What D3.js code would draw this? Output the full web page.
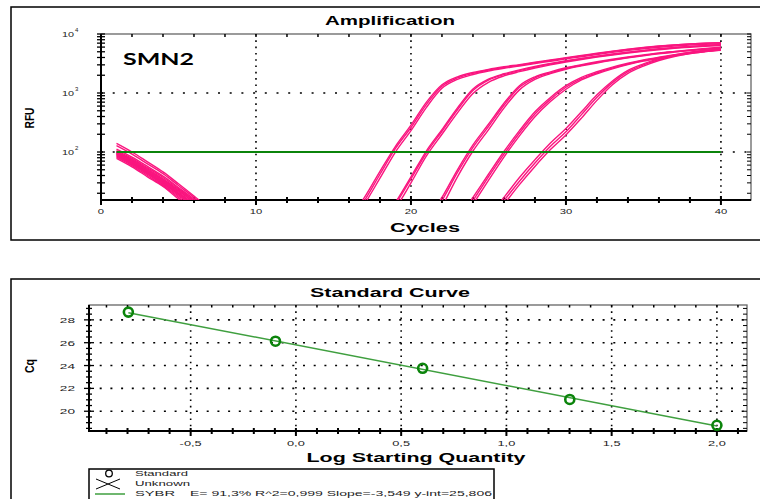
<!DOCTYPE html>
<html>
<head>
<meta charset="utf-8">
<script src="https://cdn.jsdelivr.net/npm/d3@7"></script>
<style>
  body { margin: 0; background: #fff; }
  svg { display: block; font-family: "Liberation Sans", Arial, sans-serif; }
</style>
</head>
<body>
<svg id="chart" width="760" height="499"></svg>
<script>
// ---- amplification data (RFU per cycle, one array per well) ----
const cycles = [1,2,3,4,5,6,7,8,9,10,11,12,13,14,15,16,17,18,19,20,
                21,22,23,24,25,26,27,28,29,30,31,32,33,34,35,36,37,38,39,40];

// dilution 1 (Cq ~18.8)
const rfuG1 = [
  [140,100,68,46,29,18,11, 7,5,4,4,4,4,4,5, 6,15,42,115,260,640,1300,1800,2150,2450,2700,2950,3250,3550,3900,4250,4650,5050,5450,5850,6200,6500,6750,6950,7100],
  [128,92,63,43,27,17,10, 6,5,4,4,4,4,5,5, 7,17,47,125,285,700,1380,1880,2230,2520,2780,3030,3320,3620,3970,4320,4720,5120,5520,5900,6250,6550,6800,7000,7150],
  [112,82,57,39,25,16,10, 6,5,4,4,4,4,4,4, 5,13,36,100,230,570,1200,1700,2060,2360,2620,2870,3150,3450,3780,4120,4500,4880,5250,5620,5950,6250,6500,6700,6850]
];
// dilution 2 (Cq ~21.1)
const rfuG2 = [
  [106,78,54,37,24,15,9, 5,4,4,4,4,4,4,4,4,5, 6,13,35,97,225,520,1100,1650,2050,2400,2750,3100,3450,3800,4150,4500,4850,5200,5550,5850,6100,6350,6550],
  [102,75,52,35,23,15,9, 5,4,4,4,4,4,4,4,4,4, 5,11,30,86,200,460,980,1520,1950,2300,2650,3000,3350,3700,4050,4400,4750,5080,5400,5700,5950,6200,6400],
  [100,73,50,34,22,14,9, 5,4,4,4,4,4,4,4,4,5, 6,14,38,105,240,560,1170,1720,2120,2470,2820,3170,3520,3870,4220,4570,4920,5270,5620,5920,6180,6420,6650]
];
// dilution 3 (Cq ~23.8)
const rfuG3 = [
  [98,71,49,33,22,14,8, 5,4,4,4,4,4,4,4,4,4,4,4,5, 6,15,45,120,270,620,1250,1800,2200,2600,2950,3300,3650,4000,4350,4700,5000,5300,5600,5900],
  [96,69,47,32,21,13,8, 5,4,4,4,4,4,4,4,4,4,4,4,5, 7,17,50,132,295,670,1330,1880,2280,2680,3030,3380,3730,4080,4430,4780,5080,5380,5680,5980],
  [94,67,46,31,20,13,8, 5,4,4,4,4,4,4,4,4,4,4,4,4, 5,12,38,104,238,555,1130,1700,2130,2530,2880,3230,3580,3930,4280,4620,4920,5220,5520,5800]
];
// dilution 4 (Cq ~26.1)
const rfuG4 = [
  [92,66,45,31,20,13,8, 5,4,4,4,4,4,4,4,4,4,4,4,4,4,5, 6,15,38,92,210,440,780,1250,1750,2200,2650,3100,3550,3950,4350,4750,5100,5450],
  [90,64,44,30,19,12,7, 5,4,4,4,4,4,4,4,4,4,4,4,4,4,5, 7,17,42,102,230,480,840,1330,1840,2290,2740,3190,3640,4040,4440,4840,5190,5540],
  [88,63,43,29,19,12,7, 5,4,4,4,4,4,4,4,4,4,4,4,4,4,4, 5,13,33,82,188,395,715,1160,1670,2120,2570,3020,3470,3870,4270,4670,5020,5370]
];
// dilution 5 (Cq ~28.7)
const rfuG5 = [
  [85,61,42,28,18,12,7, 5,4,4,4,4,4,4,4,4,4,4,4,4,4,4,4,5, 7,15,32,65,125,220,430,850,1500,2300,3000,3700,4300,4800,5200,5500],
  [82,59,40,27,17,11,7, 5,4,4,4,4,4,4,4,4,4,4,4,4,4,4,4,5, 8,17,37,74,142,250,480,930,1600,2420,3120,3820,4420,4920,5300,5600],
  [78,56,38,26,16,10,6, 5,4,4,4,4,4,4,4,4,4,4,4,4,4,4,4,4, 6,13,28,57,110,195,375,750,1380,2150,2850,3550,4150,4650,5050,5300]
];

const threshold = 100;
const thresholdCycles = [1, 40];
const ampXTicks = [0, 10, 20, 30, 40];
const ampYExp = [2, 3, 4];

// ---- standard curve data ----
const logQty = [-0.796, -0.097, 0.602, 1.301, 2.0];
const cqStd = [28.68, 26.13, 23.76, 21.03, 18.77];
const fitSlope = -3.549;
const fitIntercept = 25.806;
const stdXTicks = [-0.5, 0, 0.5, 1, 1.5, 2];
const stdXLabels = ["-0,5", "0,0", "0,5", "1,0", "1,5", "2,0"];
const stdYTicks = [20, 22, 24, 26, 28];
const legendItems = ["Standard", "Unknown", "SYBR"];
const legendStats = "E= 91,3% R^2=0,999 Slope=-3,549 y-int=25,806";

const svg = d3.select('#chart');
const pink = '#fa157f';
const green = '#0b840b';

// stretch text horizontally, the source picture is wider than it is tall
function stretch(sel, k) {
  sel.each(function () {
    const w = this.getComputedTextLength();
    d3.select(this).attr('textLength', w * k).attr('lengthAdjust', 'spacingAndGlyphs');
  });
  return sel;
}
function fixed(sel, len) {
  return sel.attr('textLength', len).attr('lengthAdjust', 'spacingAndGlyphs');
}

// panel frames
svg.append('rect').attr('x', 11).attr('y', 7).attr('width', 770).attr('height', 233)
  .attr('fill', 'none').attr('stroke', '#000').attr('stroke-width', 1.5);
svg.append('rect').attr('x', 11).attr('y', 279).attr('width', 770).attr('height', 250)
  .attr('fill', 'none').attr('stroke', '#000').attr('stroke-width', 1.5);

// ================= Amplification =================
const A = { l: 101, r: 751, t: 34, b: 200 };
const ax = d3.scaleLinear().domain([0, 41.94]).range([A.l, A.r]);
const ay = d3.scaleLog().domain([15.37, 10000]).range([A.b, A.t]);

// dotted grid
svg.append('g').selectAll('line').data(ampXTicks.filter(d => d > 0)).join('line')
  .attr('x1', d => ax(d)).attr('x2', d => ax(d)).attr('y1', A.t).attr('y2', A.b)
  .attr('stroke', '#000').attr('stroke-width', 1.6).attr('stroke-dasharray', '1.6,4.7');
svg.append('g').selectAll('line').data(ampYExp.filter(e => e < 4)).join('line')
  .attr('x1', A.l).attr('x2', A.r).attr('y1', e => ay(Math.pow(10, e))).attr('y2', e => ay(Math.pow(10, e)))
  .attr('stroke', '#000').attr('stroke-width', 1.6).attr('stroke-dasharray', '2,9.7');

// frame
svg.append('rect').attr('x', A.l).attr('y', A.t).attr('width', A.r - A.l).attr('height', A.b - A.t)
  .attr('fill', 'none').attr('stroke', '#666').attr('stroke-width', 1.3);

// log minor ticks
const logTicks = ay.ticks(30).filter(v => v >= 15.37 && v <= 10000);
const gT = svg.append('g').attr('stroke', '#000');
gT.selectAll('.lt').data(logTicks).join('line')
  .attr('x1', A.l - 4).attr('x2', A.l + 4).attr('y1', d => ay(d)).attr('y2', d => ay(d)).attr('stroke-width', 1.3);
gT.selectAll('.rt').data(logTicks).join('line').attr('class', 'rt')
  .attr('x1', A.r - 4).attr('x2', A.r).attr('y1', d => ay(d)).attr('y2', d => ay(d)).attr('stroke-width', 1);
const cycTicks = d3.range(0, 42, 2);
gT.selectAll('.bt').data(cycTicks).join('line').attr('class', 'bt')
  .attr('x1', d => ax(d)).attr('x2', d => ax(d))
  .attr('y1', d => A.b - (d % 10 ? 3 : 4)).attr('y2', d => A.b + (d % 10 ? 3 : 5)).attr('stroke-width', 2);
gT.selectAll('.tt').data(cycTicks).join('line').attr('class', 'tt')
  .attr('x1', d => ax(d)).attr('x2', d => ax(d)).attr('y1', A.t).attr('y2', A.t + 3).attr('stroke-width', 1.5);

// axes lines
svg.append('line').attr('x1', A.l).attr('x2', A.l).attr('y1', A.t).attr('y2', A.b + 1).attr('stroke', '#000').attr('stroke-width', 2);
svg.append('line').attr('x1', A.l).attr('x2', A.r).attr('y1', A.b).attr('y2', A.b).attr('stroke', '#000').attr('stroke-width', 2);

// tick labels
stretch(svg.append('g').selectAll('text').data(ampXTicks).join('text')
  .attr('x', d => ax(d)).attr('y', 214).attr('text-anchor', 'middle')
  .attr('font-size', 8).attr('fill', '#222').text(d => d), 1.4);
const yl = svg.append('g').selectAll('g').data(ampYExp).join('g');
stretch(yl.append('text').attr('x', 74).attr('y', e => ay(Math.pow(10, e)) + 3)
  .attr('text-anchor', 'end').attr('font-size', 8).attr('fill', '#222').text('10'), 1.35);
yl.append('text').attr('x', 75).attr('y', e => ay(Math.pow(10, e)) - 2)
  .attr('font-size', 6).attr('fill', '#222').text(e => e);

// curves
svg.append('clipPath').attr('id', 'ampClip').append('rect')
  .attr('x', A.l).attr('y', A.t).attr('width', A.r - A.l).attr('height', A.b - A.t);
const ampLine = d3.line().x((v, i) => ax(cycles[i])).y(v => ay(v)).curve(d3.curveMonotoneX);
const wells = [].concat(rfuG1, rfuG2, rfuG3, rfuG4, rfuG5);
svg.append('g').attr('clip-path', 'url(#ampClip)').selectAll('path').data(wells).join('path')
  .attr('d', ampLine).attr('fill', 'none').attr('stroke', pink).attr('stroke-width', 1.4);

// threshold
svg.append('line').attr('x1', ax(thresholdCycles[0])).attr('x2', ax(thresholdCycles[1]))
  .attr('y1', ay(threshold)).attr('y2', ay(threshold)).attr('stroke', green).attr('stroke-width', 2);

// titles
fixed(svg.append('text').attr('x', 390).attr('y', 25).attr('text-anchor', 'middle')
  .attr('font-size', 12).attr('font-weight', 'bold').text('Amplification'), 130);
fixed(svg.append('text').attr('x', 425).attr('y', 232).attr('text-anchor', 'middle')
  .attr('font-size', 12.5).attr('font-weight', 'bold').text('Cycles'), 70);
fixed(svg.append('text').attr('transform', 'translate(33.5,118) rotate(-90)').attr('text-anchor', 'middle')
  .attr('font-size', 12.5).attr('font-weight', 'bold').text('RFU'), 21);
fixed(svg.append('text').attr('x', 123).attr('y', 65).attr('font-family', 'Lato, "Open Sans", sans-serif')
  .attr('font-size', 17).attr('font-weight', 'bold').text('SMN2'), 71);

// ================= Standard Curve =================
const S = { l: 89, r: 747, t: 305, b: 431 };
const sx = d3.scaleLinear().domain([-0.983, 2.143]).range([S.l, S.r]);
const sy = d3.scaleLinear().domain([18.27, 29.3]).range([S.b, S.t]);

svg.append('g').selectAll('line').data(stdXTicks).join('line')
  .attr('x1', d => sx(d)).attr('x2', d => sx(d)).attr('y1', S.t).attr('y2', S.b)
  .attr('stroke', '#000').attr('stroke-width', 1.6).attr('stroke-dasharray', '1.6,4.7');
svg.append('g').selectAll('line').data(stdYTicks).join('line')
  .attr('x1', S.l).attr('x2', S.r).attr('y1', d => sy(d)).attr('y2', d => sy(d))
  .attr('stroke', '#000').attr('stroke-width', 1.6).attr('stroke-dasharray', '2,8.7');

svg.append('rect').attr('x', S.l).attr('y', S.t).attr('width', S.r - S.l).attr('height', S.b - S.t)
  .attr('fill', 'none').attr('stroke', '#666').attr('stroke-width', 1.3);

const cqTicks = d3.range(18.5, 29.01, 0.5);
const qTicks = d3.range(-9, 22).map(i => i / 10);
const gS = svg.append('g').attr('stroke', '#000');
gS.selectAll('.lt').data(cqTicks).join('line').attr('class', 'lt')
  .attr('x1', d => S.l - (d % 2 ? 3 : 5)).attr('x2', d => S.l + (d % 2 ? 3 : 5))
  .attr('y1', d => sy(d)).attr('y2', d => sy(d)).attr('stroke-width', 1.3);
gS.selectAll('.rt').data(cqTicks).join('line').attr('class', 'rt')
  .attr('x1', S.r - 4).attr('x2', S.r).attr('y1', d => sy(d)).attr('y2', d => sy(d)).attr('stroke-width', 1);
gS.selectAll('.bt').data(qTicks).join('line').attr('class', 'bt')
  .attr('x1', d => sx(d)).attr('x2', d => sx(d))
  .attr('y1', S.b - 3).attr('y2', d => S.b + (Math.abs(Math.round(d * 10)) % 5 ? 3 : 5)).attr('stroke-width', 2);
gS.selectAll('.tt').data(qTicks).join('line').attr('class', 'tt')
  .attr('x1', d => sx(d)).attr('x2', d => sx(d)).attr('y1', S.t).attr('y2', S.t + 2.5).attr('stroke-width', 1.5);

svg.append('line').attr('x1', S.l).attr('x2', S.l).attr('y1', S.t).attr('y2', S.b + 1).attr('stroke', '#000').attr('stroke-width', 2);
svg.append('line').attr('x1', S.l).attr('x2', S.r).attr('y1', S.b).attr('y2', S.b).attr('stroke', '#000').attr('stroke-width', 2);

stretch(svg.append('g').selectAll('text').data(stdXTicks).join('text')
  .attr('x', d => sx(d)).attr('y', 446).attr('text-anchor', 'middle')
  .attr('font-size', 8).attr('fill', '#222').text((d, i) => stdXLabels[i]), 1.6);
stretch(svg.append('g').selectAll('text').data(stdYTicks).join('text')
  .attr('x', 75).attr('y', d => sy(d) + 3).attr('text-anchor', 'end')
  .attr('font-size', 8).attr('fill', '#222').text(d => d), 1.7);

// fit line + standards
const xr = d3.extent(logQty);
svg.append('line').attr('x1', sx(xr[0])).attr('x2', sx(xr[1]))
  .attr('y1', sy(fitSlope * xr[0] + fitIntercept)).attr('y2', sy(fitSlope * xr[1] + fitIntercept))
  .attr('stroke', '#3f9f3f').attr('stroke-width', 1.5);
svg.append('g').selectAll('circle').data(logQty).join('circle')
  .attr('cx', d => sx(d)).attr('cy', (d, i) => sy(cqStd[i])).attr('r', 4.5)
  .attr('fill', 'none').attr('stroke', green).attr('stroke-width', 2.6);

fixed(svg.append('text').attr('x', 390).attr('y', 297).attr('text-anchor', 'middle')
  .attr('font-size', 12).attr('font-weight', 'bold').text('Standard Curve'), 160);
fixed(svg.append('text').attr('x', 416).attr('y', 462).attr('text-anchor', 'middle')
  .attr('font-size', 12.5).attr('font-weight', 'bold').text('Log Starting Quantity'), 219);
fixed(svg.append('text').attr('transform', 'translate(33.5,366) rotate(-90)').attr('text-anchor', 'middle')
  .attr('font-size', 12.5).attr('font-weight', 'bold').text('Cq'), 14);

// legend
const lg = svg.append('g');
lg.append('rect').attr('x', 89).attr('y', 469).attr('width', 405).attr('height', 45)
  .attr('fill', '#fff').attr('stroke', '#000').attr('stroke-width', 1.5);
lg.append('circle').attr('cx', 109).attr('cy', 473.5).attr('r', 3.3)
  .attr('fill', 'none').attr('stroke', '#000').attr('stroke-width', 1.3);
lg.append('path').attr('d', 'M96,479L120,489M96,489L120,479').attr('stroke', '#000').attr('stroke-width', 1);
lg.append('line').attr('x1', 95).attr('x2', 125).attr('y1', 494).attr('y2', 494)
  .attr('stroke', '#3f9f3f').attr('stroke-width', 1.5);
const legW = [53, 55, 40];
lg.selectAll('.li').data(legendItems).join('text').attr('class', 'li')
  .attr('x', 135).attr('y', (d, i) => 476 + i * 10).attr('font-size', 8).attr('fill', '#222')
  .attr('textLength', (d, i) => legW[i]).attr('lengthAdjust', 'spacingAndGlyphs').text(d => d);
fixed(lg.append('text').attr('x', 190).attr('y', 496).attr('font-size', 8).attr('fill', '#222')
  .text(legendStats), 302);
</script>
</body>
</html>
